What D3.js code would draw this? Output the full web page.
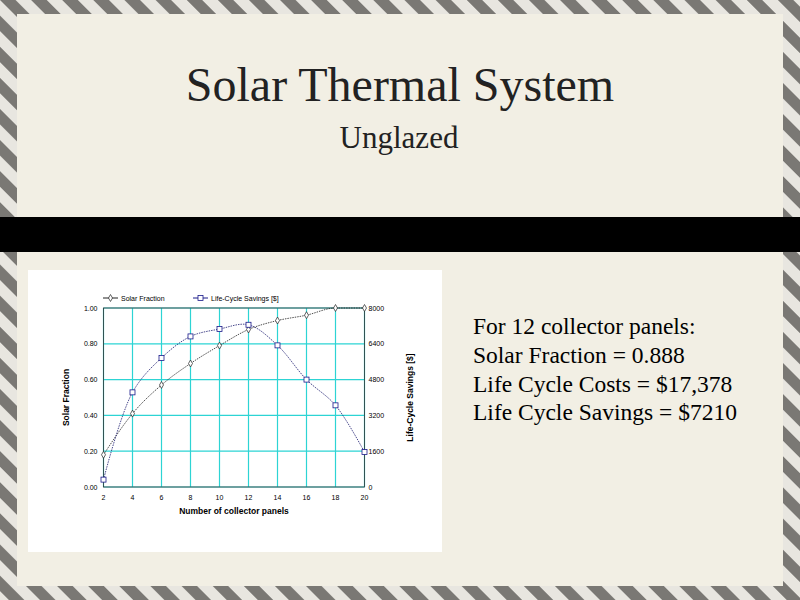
<!DOCTYPE html>
<html><head><meta charset="utf-8">
<script src="https://cdn.jsdelivr.net/npm/d3@7"></script>
<style>body{margin:0}svg{display:block}</style>
</head><body>
<svg id="c" width="800" height="600"></svg>
<script>
// data
var panels = [2, 4, 6, 8, 10, 12, 14, 16, 18, 20];
var solarFraction = [0.18, 0.41, 0.57, 0.69, 0.79, 0.88, 0.93, 0.96, 1.00, 1.00];
var lifeSavings = [330, 4230, 5770, 6730, 7060, 7250, 6330, 4800, 3650, 1560];
var leftTicks = [0, 0.2, 0.4, 0.6, 0.8, 1.0];
var rightTicks = [0, 1600, 3200, 4800, 6400, 8000];
var notes = ["For 12 collector panels:", "Solar Fraction = 0.888",
  "Life Cycle Costs = $17,378", "Life Cycle Savings = $7210"];

var svg = d3.select("#c");

// striped border
var defs = svg.append("defs");
var pat = defs.append("pattern").attr("id", "stripes").attr("width", 22).attr("height", 22)
  .attr("patternUnits", "userSpaceOnUse").attr("patternTransform", "rotate(-45)");
pat.append("rect").attr("width", 22).attr("height", 22).attr("fill", "#e8e6e0");
pat.append("rect").attr("width", 11).attr("height", 22).attr("fill", "#7a7874");
svg.append("rect").attr("width", 800).attr("height", 600).attr("fill", "url(#stripes)");
svg.append("rect").attr("x", 17).attr("y", 14).attr("width", 766).attr("height", 572).attr("fill", "#f2efe4");

// black band
svg.append("rect").attr("x", 0).attr("y", 217).attr("width", 800).attr("height", 35).attr("fill", "#000");

svg.append("text").attr("x", 400).attr("y", 101).attr("text-anchor", "middle")
  .attr("font-family", "Liberation Serif").attr("font-size", 48).attr("fill", "#222")
  .text("Solar Thermal System");
svg.append("text").attr("x", 399).attr("y", 148).attr("text-anchor", "middle")
  .attr("font-family", "Liberation Serif").attr("font-size", 31).attr("fill", "#222")
  .text("Unglazed");

svg.selectAll(".note").data(notes).enter().append("text")
  .attr("x", 473).attr("y", (d, i) => 334 + i * 28.8)
  .attr("font-family", "Liberation Serif").attr("font-size", 23.5).attr("fill", "#000")
  .text(d => d);

// chart box
svg.append("rect").attr("x", 28).attr("y", 270).attr("width", 414).attr("height", 282).attr("fill", "#fff");

var x = d3.scaleLinear().domain([2, 20]).range([103.5, 364.5]);
var yL = d3.scaleLinear().domain([0, 1]).range([487, 308]);
var yR = d3.scaleLinear().domain([0, 8000]).range([487, 308]);

var g = svg.append("g").attr("font-family", "Liberation Sans").attr("font-size", 7);

// grid
g.selectAll(".vg").data(panels).enter().append("line")
  .attr("x1", d => x(d)).attr("x2", d => x(d)).attr("y1", yL(0)).attr("y2", yL(1))
  .attr("stroke", "#2dd4d4").attr("stroke-width", 1.2);
g.selectAll(".hg").data(leftTicks).enter().append("line")
  .attr("x1", x(2)).attr("x2", x(20)).attr("y1", d => yL(d)).attr("y2", d => yL(d))
  .attr("stroke", "#2dd4d4").attr("stroke-width", 1.2);
g.append("rect").attr("x", x(2)).attr("y", yL(1)).attr("width", x(20) - x(2)).attr("height", yL(0) - yL(1))
  .attr("fill", "none").attr("stroke", "#333").attr("stroke-width", 0.8);

g.selectAll(".lt").data(leftTicks).enter().append("text")
  .attr("x", x(2) - 6).attr("y", d => yL(d) + 2.5).attr("text-anchor", "end")
  .text(d => d.toFixed(2));
g.selectAll(".rt").data(rightTicks).enter().append("text")
  .attr("x", x(20) + 4).attr("y", d => yR(d) + 2.5)
  .text(d => d);
g.selectAll(".xt").data(panels).enter().append("text")
  .attr("x", d => x(d)).attr("y", yL(0) + 13).attr("text-anchor", "middle")
  .text(d => d);

g.append("text").attr("x", (x(2) + x(20)) / 2).attr("y", 514).attr("text-anchor", "middle")
  .attr("font-size", 8.5).attr("font-weight", "bold").text("Number of collector panels");
g.append("text").attr("transform", "translate(69," + yL(0.5) + ") rotate(-90)").attr("text-anchor", "middle")
  .attr("font-size", 8.5).attr("font-weight", "bold").text("Solar Fraction");
g.append("text").attr("transform", "translate(413," + yL(0.5) + ") rotate(-90)").attr("text-anchor", "middle")
  .attr("font-size", 8.5).attr("font-weight", "bold").text("Life-Cycle Savings [$]");

var sfLine = d3.line().x((d, i) => x(panels[i])).y(d => yL(d)).curve(d3.curveMonotoneX);
var lsLine = d3.line().x((d, i) => x(panels[i])).y(d => yR(d)).curve(d3.curveCatmullRom);

g.append("path").attr("d", sfLine(solarFraction)).attr("fill", "none")
  .attr("stroke", "#222").attr("stroke-width", 0.8).attr("stroke-dasharray", "1.5,1");
g.append("path").attr("d", lsLine(lifeSavings)).attr("fill", "none")
  .attr("stroke", "#1a1a6e").attr("stroke-width", 0.8).attr("stroke-dasharray", "1.5,1");

var diamond = d3.symbol().type(d3.symbolDiamond).size(14);
g.selectAll(".sf").data(solarFraction).enter().append("path")
  .attr("d", diamond).attr("transform", (d, i) => "translate(" + x(panels[i]) + "," + yL(d) + ")")
  .attr("fill", "#fff").attr("stroke", "#222").attr("stroke-width", 0.7);
g.selectAll(".ls").data(lifeSavings).enter().append("rect")
  .attr("x", (d, i) => x(panels[i]) - 2.5).attr("y", d => yR(d) - 2.5).attr("width", 5).attr("height", 5)
  .attr("fill", "#fff").attr("stroke", "#1a1a8a").attr("stroke-width", 0.8);

// legend
g.append("line").attr("x1", 103).attr("x2", 118).attr("y1", 298).attr("y2", 298).attr("stroke", "#222");
g.append("path").attr("d", diamond).attr("transform", "translate(110.5,298)").attr("fill", "#fff").attr("stroke", "#222").attr("stroke-width", 0.7);
g.append("text").attr("x", 121).attr("y", 300.5).text("Solar Fraction");
g.append("line").attr("x1", 193).attr("x2", 208).attr("y1", 298).attr("y2", 298).attr("stroke", "#1a1a8a");
g.append("rect").attr("x", 198).attr("y", 295.5).attr("width", 5).attr("height", 5).attr("fill", "#fff").attr("stroke", "#1a1a8a").attr("stroke-width", 0.8);
g.append("text").attr("x", 211).attr("y", 300.5).text("Life-Cycle Savings [$]");
</script>
</body></html>
